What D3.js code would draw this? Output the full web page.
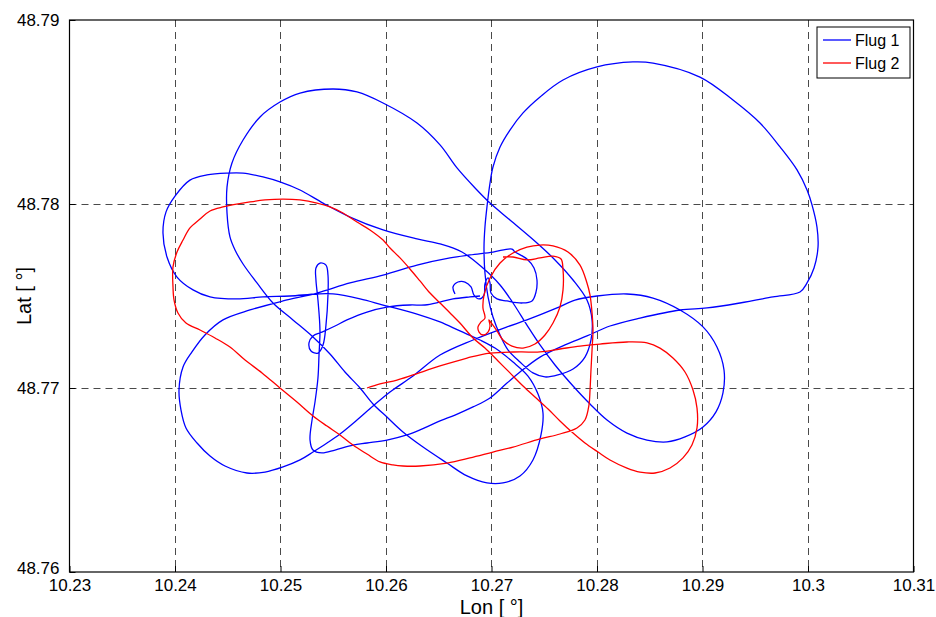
<!DOCTYPE html>
<html>
<head>
<meta charset="utf-8">
<script src="https://cdn.jsdelivr.net/npm/d3@7"></script>
<style>
  body { margin: 0; background: #fff; }
  svg { display: block; }
  text { font-family: "Liberation Sans", Arial, Helvetica, sans-serif; fill: #000; }
</style>
</head>
<body>
<svg id="chart" width="936" height="617"></svg>
<script>
// Axis ticks
const lonTicks = [10.23, 10.24, 10.25, 10.26, 10.27, 10.28, 10.29, 10.30, 10.31];
const lonTickLabels = ["10.23", "10.24", "10.25", "10.26", "10.27", "10.28", "10.29", "10.3", "10.31"];
const latTicks = [48.76, 48.77, 48.78, 48.79];
const latTickLabels = ["48.76", "48.77", "48.78", "48.79"];

// Flight 1 GPS track (longitude / latitude in degrees)
const flug1Lon = [
  10.26654, 10.26635, 10.26682, 10.26749, 10.26806, 10.26834, 10.26882, 10.26929, 10.26938, 10.26967,
  10.26986, 10.26995, 10.27052, 10.27147, 10.27289, 10.27384, 10.27422, 10.27431, 10.27403, 10.27336,
  10.27223, 10.27194, 10.27014, 10.26796, 10.26607, 10.26294, 10.25972, 10.25659, 10.25346, 10.25024,
  10.24711, 10.24455, 10.24284, 10.24161, 10.24076, 10.24038, 10.24057, 10.24104, 10.24209, 10.24332,
  10.24474, 10.24682, 10.24853, 10.25024, 10.25185, 10.25308, 10.25441, 10.25564, 10.25725, 10.25877,
  10.26038, 10.26256, 10.26512, 10.26825, 10.27147, 10.27336, 10.27621, 10.27791, 10.28000, 10.28284,
  10.28531, 10.28787, 10.29005, 10.29137, 10.29204, 10.29194, 10.29128, 10.29005, 10.28834, 10.28664,
  10.28474, 10.28284, 10.28095, 10.27934, 10.27773, 10.27602, 10.27460, 10.27336, 10.27204, 10.27081,
  10.26919, 10.26720, 10.26512, 10.26294, 10.25972, 10.25659, 10.25403, 10.25185, 10.24995, 10.24834,
  10.24645, 10.24493, 10.24303, 10.24142, 10.24000, 10.23915, 10.23886, 10.23924, 10.24019, 10.24171,
  10.24332, 10.24588, 10.24834, 10.25090, 10.25346, 10.25498, 10.25754, 10.25972, 10.26294, 10.26512,
  10.26701, 10.26891, 10.27033, 10.27204, 10.27346, 10.27441, 10.27488, 10.27469, 10.27393, 10.27270,
  10.27109, 10.26957, 10.26768, 10.26578, 10.26351, 10.26161, 10.26009, 10.25877, 10.25754, 10.25611,
  10.25469, 10.25308, 10.25118, 10.24929, 10.24777, 10.24645, 10.24569, 10.24521, 10.24493, 10.24493,
  10.24540, 10.24645, 10.24806, 10.24995, 10.25185, 10.25498, 10.25725, 10.25972, 10.26294, 10.26512,
  10.26673, 10.26844, 10.26986, 10.27175, 10.27431, 10.27602, 10.27773, 10.27905, 10.27953, 10.27943,
  10.27886, 10.27773, 10.27630, 10.27507, 10.27393, 10.27270, 10.27156, 10.27081, 10.27014, 10.26967,
  10.26938, 10.26929, 10.26938, 10.26957, 10.26986, 10.27014, 10.27081, 10.27175, 10.27299, 10.27460,
  10.27678, 10.28000, 10.28341, 10.28531, 10.28976, 10.29289, 10.29545, 10.29735, 10.29896, 10.29991,
  10.30038, 10.30085, 10.30095, 10.30057, 10.29991, 10.29924, 10.29668, 10.29355, 10.29043, 10.28787,
  10.28408, 10.28123, 10.27905, 10.27697, 10.27460, 10.27270, 10.27147, 10.26986, 10.26825, 10.26654,
  10.26512, 10.26322, 10.26199, 10.26009, 10.25820, 10.25687, 10.25517, 10.25393, 10.25308, 10.25280,
  10.25299, 10.25327, 10.25355, 10.25365, 10.25374, 10.25355, 10.25336, 10.25336, 10.25374, 10.25431,
  10.25450, 10.25450, 10.25431, 10.25403, 10.25355, 10.25289, 10.25270, 10.25308, 10.25393, 10.25517,
  10.25630, 10.25820, 10.26009, 10.26227, 10.26370, 10.26512, 10.26635, 10.26796, 10.26891
];
const flug1Lat = [
  48.77511, 48.77549, 48.77576, 48.77576, 48.77549, 48.77505, 48.77484, 48.77505, 48.77565, 48.77598,
  48.77571, 48.77516, 48.77484, 48.77473, 48.77462, 48.77473, 48.77522, 48.77587, 48.77652, 48.77701,
  48.77739, 48.77755, 48.77739, 48.77723, 48.77707, 48.77668, 48.77614, 48.77571, 48.77516, 48.77473,
  48.77424, 48.77370, 48.77288, 48.77196, 48.77114, 48.76989, 48.76880, 48.76783, 48.76701, 48.76630,
  48.76576, 48.76538, 48.76543, 48.76571, 48.76609, 48.76652, 48.76701, 48.76750, 48.76826, 48.76902,
  48.76978, 48.77065, 48.77179, 48.77261, 48.77332, 48.77370, 48.77435, 48.77478, 48.77500, 48.77511,
  48.77489, 48.77424, 48.77332, 48.77223, 48.77098, 48.76973, 48.76870, 48.76788, 48.76734, 48.76707,
  48.76717, 48.76755, 48.76826, 48.76913, 48.77011, 48.77125, 48.77234, 48.77342, 48.77462, 48.77560,
  48.77652, 48.77739, 48.77783, 48.77810, 48.77859, 48.77929, 48.78005, 48.78076, 48.78120, 48.78147,
  48.78168, 48.78168, 48.78158, 48.78130, 48.78043, 48.77957, 48.77842, 48.77712, 48.77603, 48.77533,
  48.77495, 48.77484, 48.77495, 48.77500, 48.77511, 48.77511, 48.77484, 48.77451, 48.77402, 48.77359,
  48.77310, 48.77261, 48.77217, 48.77141, 48.77065, 48.76967, 48.76864, 48.76745, 48.76609, 48.76522,
  48.76484, 48.76484, 48.76522, 48.76592, 48.76679, 48.76761, 48.76842, 48.76913, 48.77000, 48.77087,
  48.77185, 48.77277, 48.77370, 48.77462, 48.77571, 48.77674, 48.77750, 48.77821, 48.77951, 48.78092,
  48.78223, 48.78348, 48.78473, 48.78554, 48.78603, 48.78625, 48.78609, 48.78549, 48.78440, 48.78321,
  48.78196, 48.78087, 48.78005, 48.77913, 48.77788, 48.77696, 48.77587, 48.77478, 48.77370, 48.77261,
  48.77168, 48.77103, 48.77071, 48.77060, 48.77082, 48.77141, 48.77207, 48.77288, 48.77386, 48.77495,
  48.77625, 48.77766, 48.77875, 48.77984, 48.78114, 48.78201, 48.78310, 48.78402, 48.78495, 48.78582,
  48.78674, 48.78745, 48.78772, 48.78766, 48.78690, 48.78565, 48.78440, 48.78310, 48.78185, 48.78076,
  48.77995, 48.77875, 48.77766, 48.77652, 48.77571, 48.77522, 48.77495, 48.77462, 48.77435, 48.77424,
  48.77380, 48.77337, 48.77283, 48.77234, 48.77168, 48.77087, 48.77027, 48.76946, 48.76897, 48.76853,
  48.76821, 48.76772, 48.76745, 48.76717, 48.76701, 48.76690, 48.76663, 48.76647, 48.76663, 48.76717,
  48.76826, 48.76924, 48.77054, 48.77179, 48.77315, 48.77478, 48.77587, 48.77652, 48.77679, 48.77668,
  48.77614, 48.77505, 48.77342, 48.77234, 48.77190, 48.77201, 48.77245, 48.77283, 48.77304, 48.77337,
  48.77370, 48.77413, 48.77440, 48.77451, 48.77451, 48.77467, 48.77484, 48.77495, 48.77500
];

// Flight 2 GPS track (longitude / latitude in degrees)
const flug2Lon = [
  10.25820, 10.25943, 10.26104, 10.26256, 10.26512, 10.26768, 10.26986, 10.27270, 10.27460, 10.27649,
  10.27839, 10.28028, 10.28284, 10.28474, 10.28597, 10.28720, 10.28834, 10.28910, 10.28948, 10.28948,
  10.28900, 10.28815, 10.28692, 10.28550, 10.28408, 10.28284, 10.28123, 10.28010, 10.27886, 10.27773,
  10.27649, 10.27536, 10.27412, 10.27299, 10.27175, 10.27062, 10.26938, 10.26825, 10.26701, 10.26607,
  10.26512, 10.26417, 10.26322, 10.26227, 10.26133, 10.26038, 10.25972, 10.25848, 10.25725, 10.25592,
  10.25469, 10.25346, 10.25185, 10.25024, 10.24853, 10.24711, 10.24455, 10.24332, 10.24237, 10.24142,
  10.24076, 10.24019, 10.23981, 10.23981, 10.23991, 10.24028, 10.24104, 10.24237, 10.24379, 10.24521,
  10.24664, 10.24825, 10.24995, 10.25156, 10.25308, 10.25441, 10.25564, 10.25687, 10.25820, 10.25943,
  10.26066, 10.26161, 10.26322, 10.26578, 10.26796, 10.27014, 10.27204, 10.27460, 10.27649, 10.27810,
  10.27886, 10.27924, 10.27934, 10.27943, 10.27953, 10.27962, 10.27953, 10.27934, 10.27905, 10.27839,
  10.27725, 10.27583, 10.27460, 10.27336, 10.27204, 10.27081, 10.26986, 10.26929, 10.26919, 10.26938,
  10.26900, 10.26872, 10.26882, 10.26919, 10.26967, 10.26986, 10.26976, 10.27005, 10.27052, 10.27109,
  10.27194, 10.27299, 10.27412, 10.27507, 10.27583, 10.27649, 10.27678, 10.27678, 10.27659, 10.27583,
  10.27460, 10.27336, 10.27204, 10.27109
];
const flug2Lat = [
  48.77000, 48.77022, 48.77043, 48.77071, 48.77120, 48.77163, 48.77190, 48.77196, 48.77196, 48.77212,
  48.77228, 48.77239, 48.77250, 48.77245, 48.77217, 48.77163, 48.77087, 48.76989, 48.76891, 48.76783,
  48.76690, 48.76620, 48.76565, 48.76538, 48.76543, 48.76565, 48.76609, 48.76652, 48.76701, 48.76755,
  48.76821, 48.76886, 48.76951, 48.77011, 48.77082, 48.77147, 48.77217, 48.77272, 48.77353, 48.77408,
  48.77462, 48.77516, 48.77582, 48.77647, 48.77707, 48.77761, 48.77804, 48.77859, 48.77902, 48.77951,
  48.77984, 48.78005, 48.78022, 48.78027, 48.78022, 48.78011, 48.77984, 48.77962, 48.77918, 48.77870,
  48.77804, 48.77739, 48.77658, 48.77549, 48.77478, 48.77408, 48.77353, 48.77315, 48.77272, 48.77223,
  48.77152, 48.77082, 48.77000, 48.76924, 48.76848, 48.76793, 48.76745, 48.76690, 48.76641, 48.76598,
  48.76582, 48.76576, 48.76576, 48.76592, 48.76620, 48.76652, 48.76679, 48.76723, 48.76750, 48.76783,
  48.76826, 48.76908, 48.76989, 48.77098, 48.77207, 48.77315, 48.77408, 48.77505, 48.77571, 48.77668,
  48.77739, 48.77772, 48.77777, 48.77766, 48.77734, 48.77679, 48.77598, 48.77505, 48.77435, 48.77380,
  48.77359, 48.77332, 48.77304, 48.77288, 48.77304, 48.77337, 48.77370, 48.77348, 48.77310, 48.77261,
  48.77228, 48.77217, 48.77239, 48.77288, 48.77353, 48.77440, 48.77533, 48.77641, 48.77701, 48.77717,
  48.77707, 48.77696, 48.77712, 48.77712
];

const seriesNames = ["Flug 1", "Flug 2"];
const seriesColors = ["#0000ff", "#ff0000"];
const xTitle = "Lon [ \u00b0]";
const yTitle = "Lat [ \u00b0]";

const series = [
  { name: seriesNames[0], color: seriesColors[0], pts: flug1Lon.map((lon, i) => [lon, flug1Lat[i]]) },
  { name: seriesNames[1], color: seriesColors[1], pts: flug2Lon.map((lon, i) => [lon, flug2Lat[i]]) }
];

const svg = d3.select("#chart");
const W = 936, H = 617;
const plot = { left: 69.5, right: 913.5, top: 20, bottom: 572 };

const x = d3.scaleLinear().domain([lonTicks[0], lonTicks[lonTicks.length - 1]]).range([plot.left, plot.right]);
const y = d3.scaleLinear().domain([latTicks[0], latTicks[latTicks.length - 1]]).range([plot.bottom, plot.top]);

svg.append("rect").attr("width", W).attr("height", H).attr("fill", "#fff");

// Dashed grid at interior ticks
const grid = svg.append("g").attr("stroke", "#4a4a4a").attr("stroke-width", 1).attr("stroke-dasharray", "7,5");
grid.selectAll("line.gx").data(lonTicks.slice(1, -1)).join("line")
  .attr("x1", d => Math.round(x(d)) + 0.5).attr("x2", d => Math.round(x(d)) + 0.5)
  .attr("y1", plot.top).attr("y2", plot.bottom);
grid.selectAll("line.gy").data(latTicks.slice(1, -1)).join("line")
  .attr("y1", d => Math.round(y(d)) + 0.5).attr("y2", d => Math.round(y(d)) + 0.5)
  .attr("x1", plot.left).attr("x2", plot.right);

// Axes with inward ticks
const xAxis = d3.axisBottom(x).tickValues(lonTicks).tickFormat((d, i) => lonTickLabels[i]).tickSizeInner(-6).tickSizeOuter(0);
const yAxis = d3.axisLeft(y).tickValues(latTicks).tickFormat((d, i) => latTickLabels[i]).tickSizeInner(-6).tickSizeOuter(0).tickPadding(10);

const gx = svg.append("g").attr("transform", `translate(0,${plot.bottom})`).call(xAxis);
const gy = svg.append("g").attr("transform", `translate(${plot.left},0)`).call(yAxis);
[gx, gy].forEach(g => {
  g.select(".domain").remove();
  g.selectAll("text").attr("font-size", 17).attr("font-family", "Liberation Sans, Arial, sans-serif").attr("fill", "#000");
  g.selectAll("line").attr("stroke", "#000");
});
gx.selectAll("text").attr("y", 13).attr("dy", "0.35em");
// lowest latitude label sits just above the longitude labels
gy.selectAll("text").filter(d => d === latTicks[0]).attr("dy", "0.1em");

// Line tracks
const line = d3.line().x(d => x(d[0])).y(d => y(d[1])).curve(d3.curveCatmullRom.alpha(0.5));
svg.append("g").selectAll("path").data(series).join("path")
  .attr("d", d => line(d.pts))
  .attr("fill", "none")
  .attr("stroke", d => d.color)
  .attr("stroke-width", 1.3)
  .attr("stroke-linejoin", "round");

// Plot frame
svg.append("rect")
  .attr("x", plot.left).attr("y", plot.top)
  .attr("width", plot.right - plot.left).attr("height", plot.bottom - plot.top)
  .attr("fill", "none").attr("stroke", "#000").attr("stroke-width", 1.2);

// Axis titles
svg.append("text").attr("x", (plot.left + plot.right) / 2).attr("y", 614)
  .attr("text-anchor", "middle").attr("font-size", 20).text(xTitle);
svg.append("text").attr("transform", `translate(31,${(plot.top + plot.bottom) / 2}) rotate(-90)`)
  .attr("text-anchor", "middle").attr("font-size", 20).text(yTitle);

// Legend
const lg = svg.append("g").attr("transform", "translate(817,27)");
lg.append("rect").attr("width", 93).attr("height", 51).attr("fill", "#fff").attr("stroke", "#000").attr("stroke-width", 1);
series.forEach((s, i) => {
  const cy = 13 + i * 23;
  lg.append("line").attr("x1", 6).attr("x2", 34).attr("y1", cy).attr("y2", cy).attr("stroke", s.color).attr("stroke-width", 1.3);
  lg.append("text").attr("x", 38).attr("y", cy).attr("dy", "0.36em").attr("font-size", 16).text(s.name);
});
</script>
</body>
</html>
